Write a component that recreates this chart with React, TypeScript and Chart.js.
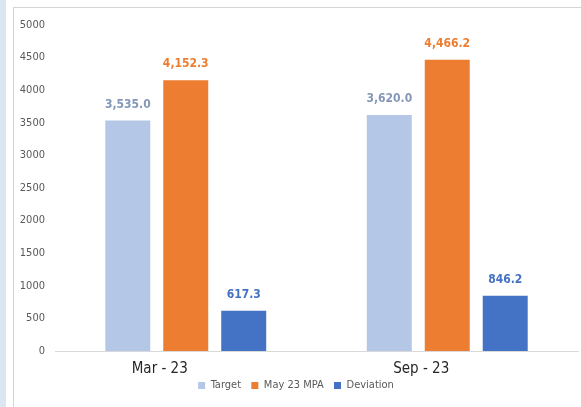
import React, { useEffect, useRef } from "react";
import { Chart, registerables } from "chart.js";

Chart.register(...registerables);

const categories = ["Mar - 23", "Sep - 23"];
const targetValues = [3535.0, 3620.0];
const mpaValues = [4152.3, 4466.2];
const deviationValues = [617.3, 846.2];
const seriesNames = ["Target", "May 23 MPA", "Deviation"];
const yTicks = [0, 500, 1000, 1500, 2000, 2500, 3000, 3500, 4000, 4500, 5000];

const FONT = "'Liberation Sans Narrow', 'DejaVu Sans Condensed', 'Open Sans', sans-serif";

const labelColors = ["#8497B8", "#ED7D31", "#4472C4"];

const dataLabelPlugin = {
  id: "dataLabels",
  afterDatasetsDraw(chart: any) {
    const ctx = chart.ctx;
    ctx.save();
    ctx.font = `bold 12px ${FONT}`;
    ctx.textAlign = "center";
    ctx.textBaseline = "middle";
    chart.data.datasets.forEach((ds: any, di: number) => {
      const meta = chart.getDatasetMeta(di);
      meta.data.forEach((el: any, i: number) => {
        const v = ds.data[i] as number;
        const txt = v.toLocaleString("en-US", { minimumFractionDigits: 1, maximumFractionDigits: 1 });
        ctx.fillStyle = labelColors[di];
        ctx.fillText(txt, el.x, el.y - 16);
      });
    });
    ctx.restore();
  },
};

export default function App() {
  const ref = useRef<HTMLCanvasElement>(null);
  useEffect(() => {
    document.body.style.margin = "0";
    const chart = new Chart(ref.current!, {
      type: "bar",
      data: {
        labels: categories,
        datasets: [
          { label: seriesNames[0], data: targetValues, backgroundColor: "#B4C7E7" },
          { label: seriesNames[1], data: mpaValues, backgroundColor: "#ED7D31" },
          { label: seriesNames[2], data: deviationValues, backgroundColor: "#4472C4" },
        ],
      },
      options: {
        responsive: false,
        animation: false,
        maintainAspectRatio: false,
        datasets: { bar: { categoryPercentage: 0.665, barPercentage: 0.776 } },
        layout: { padding: { left: 14, right: 3, top: 25, bottom: 6 } },
        scales: {
          x: {
            grid: { display: false, drawTicks: false },
            border: { display: true, color: "#D9D9D9", width: 1 },
            afterFit: (scale: any) => {
              scale.height = scale.height - 11;
            },
            ticks: {
              color: "#262626",
              font: { family: FONT, size: 15 },
              labelOffset: -26,
              padding: 9,
            },
          },
          y: {
            min: 0,
            max: 5000,
            afterBuildTicks: (scale: any) => {
              scale.ticks = yTicks.map((v) => ({ value: v }));
            },
            afterFit: (scale: any) => {
              scale.width = 41;
            },
            grid: { display: false, drawTicks: false },
            border: { display: false },
            ticks: {
              color: "#595959",
              font: { family: FONT, size: 11 },
              padding: 10,
              callback: (v: any) => String(v),
            },
          },
        },
        plugins: {
          legend: {
            position: "bottom",
            labels: {
              boxWidth: 7,
              boxHeight: 7,
              color: "#595959",
              font: { family: FONT, size: 11 },
              padding: 4,
              generateLabels: (c: any) => {
                const items = (Chart.defaults.plugins.legend.labels as any).generateLabels(c);
                return items.map((it: any, i: number) =>
                  i < items.length - 1 ? { ...it, text: it.text + "  " } : it
                );
              },
            },
          },
          tooltip: { enabled: false },
        },
      },
      plugins: [dataLabelPlugin],
    });
    return () => chart.destroy();
  }, []);

  return (
    <div style={{ position: "relative", width: 581, height: 407, background: "#FFFFFF", overflow: "hidden" }}>
      <div style={{ position: "absolute", left: 0, top: 0, width: 6, height: 407, background: "#DCE6F2" }} />
      <div
        style={{
          position: "absolute",
          left: 13,
          top: 7,
          width: 600,
          height: 420,
          borderLeft: "1px solid #D4D4D4",
          borderTop: "1px solid #D4D4D4",
        }}
      />
      <canvas ref={ref} width={581} height={407} style={{ position: "absolute", left: 0, top: 0 }} />
    </div>
  );
}
